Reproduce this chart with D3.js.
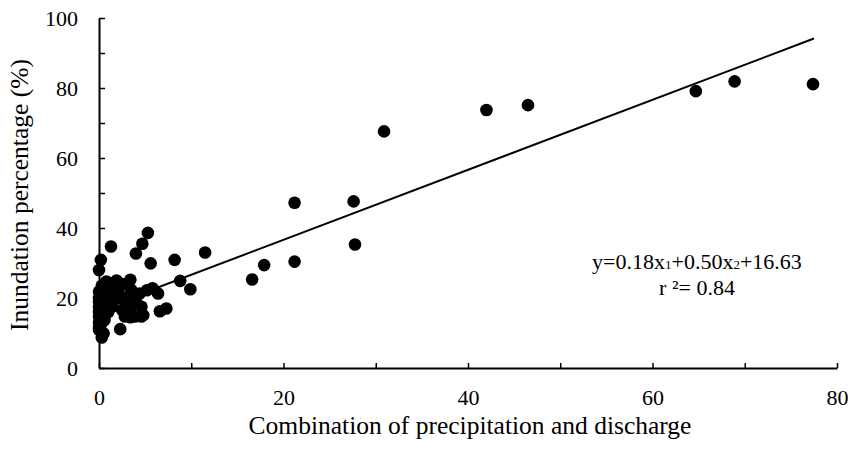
<!DOCTYPE html>
<html>
<head>
<meta charset="utf-8">
<script src="https://cdn.jsdelivr.net/npm/d3@7"></script>
<style>
  html, body { margin: 0; padding: 0; background: #fff; }
  svg { display: block; font-family: "Liberation Serif", "Times New Roman", serif; }
</style>
</head>
<body>
<svg id="chart" width="853" height="451"></svg>
<script>
// ---- data ----
const xValues = [
  77.4, 68.9, 64.7, 46.5, 42.0, 30.9, 27.6, 27.75, 21.2, 21.2, 17.9, 16.6,
  1.3, 0.2, 0.0, 5.3, 4.7, 4.0, 5.6, 8.2, 11.5, 8.8, 9.9, 5.8, 6.4, 7.3, 6.6, 2.3, 0.3, 0.0,
  0.8, 1.9, 3.4, 0.0, 0.6, 2.1, 3.5, 4.4, 5.2, 0.0, 0.6, 1.4, 2.5, 3.5, 4.6, 2.8, 3.9, 4.8,
  0.0, 0.6, 0.0, 0.5, 0.0, 0.0, 0.0, 0.0, 0.3, 1.0, 1.5, 2.0, 1.2, 2.8, 3.2, 0.5, 1.0, 0.2,
  1.5, 4.0, 2.5, 0.9, 3.4, 4.6
];
const yValues = [
  81.1, 81.9, 79.1, 75.1, 73.7, 67.6, 47.6, 35.3, 47.2, 30.4, 29.4, 25.3,
  34.7, 30.9, 28.0, 38.6, 35.5, 32.7, 29.9, 30.9, 33.0, 24.9, 22.5, 22.8, 21.3, 17.0, 16.2, 11.1, 8.7, 10.9,
  24.7, 25.0, 25.2, 21.8, 22.3, 22.3, 22.3, 21.3, 22.2, 17.5, 17.5, 17.5, 16.6, 17.5, 17.5, 14.7, 14.7, 15.1,
  14.7, 13.7, 11.8, 9.9, 20.0, 19.0, 16.0, 13.0, 23.5, 20.5, 19.0, 20.0, 23.0, 19.5, 20.5, 15.5, 16.0, 12.5,
  21.8, 19.0, 24.0, 18.8, 14.5, 14.7
];
const fitIntercept = 16.63;
const fitSlope = 1.0;
const fitRange = [0, 77.5];
const xTicks = [0, 10, 20, 30, 40, 50, 60, 70, 80];
const yTicks = [0, 10, 20, 30, 40, 50, 60, 70, 80, 90, 100];
const xLabelTicks = [0, 20, 40, 60, 80];
const yLabelTicks = [0, 20, 40, 60, 80, 100];
const xTitle = "Combination of precipitation and discharge";
const yTitle = "Inundation percentage (%)";

// ---- chart ----
const svg = d3.select("#chart");
const x = d3.scaleLinear().domain([0, 80]).range([99, 837]);
const y = d3.scaleLinear().domain([0, 100]).range([368, 18]);

const pts = xValues.map((v, i) => ({ x: v, y: yValues[i] }));

// axes
const xAxis = d3.axisBottom(x).tickValues(xTicks).tickSizeInner(-5).tickSizeOuter(0).tickPadding(21)
  .tickFormat(d => xLabelTicks.includes(d) ? d : "");
const yAxis = d3.axisLeft(y).tickValues(yTicks).tickSizeInner(-6).tickSizeOuter(0).tickPadding(21)
  .tickFormat(d => yLabelTicks.includes(d) ? d : "");

const gx = svg.append("g").attr("transform", `translate(0,${y(0)})`).call(xAxis);
const gy = svg.append("g").attr("transform", `translate(${x(0)},0)`).call(yAxis);
[gx, gy].forEach(g => {
  g.select(".domain").attr("stroke", "#000").attr("stroke-width", 2);
  g.selectAll(".tick line").attr("stroke", "#000").attr("stroke-width", 1.5);
  g.selectAll(".tick text").attr("fill", "#000").style("font-family", "Liberation Serif, serif").style("font-size", "22px");
  g.selectAll(".tick text").filter(function () { return this.textContent === ""; }).remove();
});

// points
svg.append("g").selectAll("circle").data(pts).join("circle")
  .attr("cx", d => x(d.x)).attr("cy", d => y(d.y)).attr("r", 6.3).attr("fill", "#000");

// regression line
svg.append("line")
  .attr("x1", x(fitRange[0])).attr("y1", y(fitIntercept + fitSlope * fitRange[0]))
  .attr("x2", x(fitRange[1])).attr("y2", y(fitIntercept + fitSlope * fitRange[1]))
  .attr("stroke", "#000").attr("stroke-width", 2);

// equation
const eq = svg.append("text").attr("x", 697).attr("y", 269).attr("text-anchor", "middle")
  .style("font-size", "22px").attr("fill", "#000");
eq.append("tspan").text("y=0.18x");
eq.append("tspan").attr("font-size", "13px").text("1");
eq.append("tspan").text("+0.50x");
eq.append("tspan").attr("font-size", "13px").text("2");
eq.append("tspan").text("+16.63");
svg.append("text").attr("x", 697).attr("y", 295).attr("text-anchor", "middle")
  .style("font-size", "22px").attr("fill", "#000").text("r \u00B2= 0.84");

// axis titles
svg.append("text").attr("x", 470).attr("y", 434).attr("text-anchor", "middle")
  .style("font-size", "25.5px").attr("fill", "#000").text(xTitle);
svg.append("text").attr("transform", "translate(28,195) rotate(-90)").attr("text-anchor", "middle")
  .style("font-size", "25.5px").attr("fill", "#000").text(yTitle);
</script>
</body>
</html>
